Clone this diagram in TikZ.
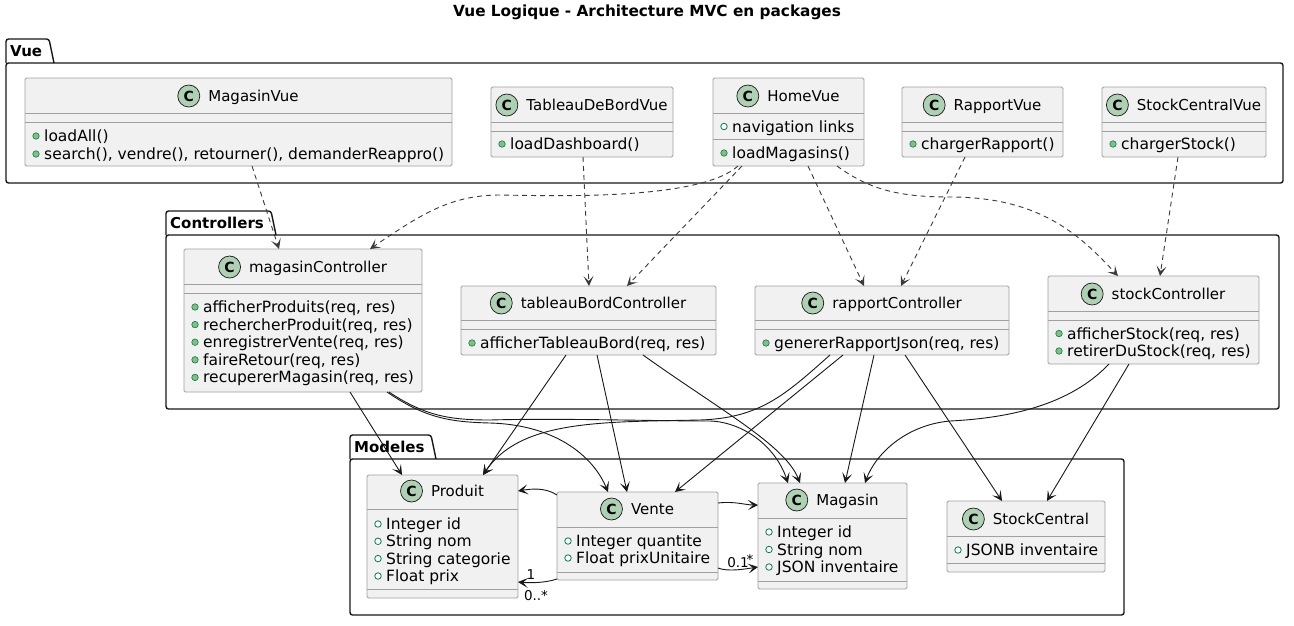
\documentclass[tikz,border=0pt]{standalone}
\usepackage{fontspec}
\setmainfont{DejaVu Sans}
\usetikzlibrary{arrows.meta,positioning}
\definecolor{clsfill}{HTML}{F1F1F1}
\definecolor{clsline}{HTML}{A0A0A0}
\definecolor{iconfill}{HTML}{ADD1B2}
\definecolor{mgreen}{HTML}{038048}
\definecolor{mfill}{HTML}{84BE84}
\definecolor{ink}{HTML}{181818}

\tikzset{
  clsbox/.style={draw=clsline, fill=clsfill, line width=0.9pt, rounded corners=1.5pt, inner sep=0pt, outer sep=0pt},
  sepline/.style={draw=clsline, line width=0.9pt},
  cname/.style={inner sep=0pt, text height=11pt, text depth=0pt, font=\fontsize{15}{18}\selectfont},
  cicon/.style={circle, draw=ink, line width=0.7pt, fill=iconfill, minimum size=22pt, inner sep=0pt, font=\bfseries\fontsize{14}{16}\selectfont},
  mtext/.style={anchor=west, inner sep=0pt, text height=11pt, text depth=0pt, font=\fontsize{15.5}{18}\selectfont},
  methdot/.style={circle, draw=mgreen, fill=mfill, line width=0.6pt, minimum size=6.5pt, inner sep=0pt},
  flddot/.style={circle, draw=mgreen, fill=white, line width=0.8pt, minimum size=6.5pt, inner sep=0pt},
  pkgbox/.style={draw=ink, line width=1.4pt, rounded corners=2.5pt, inner sep=0pt, outer sep=0pt},
  pkgtab/.style={draw=ink, line width=1.4pt, rounded corners=2.5pt},
  pkglabel/.style={anchor=west, inner sep=0pt, text height=11pt, text depth=0pt, font=\bfseries\fontsize{15}{18}\selectfont},
  dep/.style={draw=ink!85, line width=0.9pt, dash pattern=on 5pt off 4pt, -{Stealth[length=10pt,width=10pt,inset=5pt]}},
  assoc/.style={draw=ink, line width=0.9pt, -{Stealth[length=10pt,width=10pt,inset=5pt]}},
  lbl/.style={inner sep=0pt, font=\fontsize{13.5}{16}\selectfont},
}

% id, x, y, w, h
\newcommand\umlbox[5]{\node[clsbox, anchor=north west, minimum width=#4pt, minimum height=#5pt] (#1) at (#2,#3) {};}
% id, cx, y, text
\newcommand\umltitle[4]{\node[cname] (#1-n) at ({#2+15},#3) {#4};
  \node[cicon, left=8pt of #1-n] (#1-c) {C};}
% name, x1, y, text
\newcommand\umlm[4]{\node[methdot] (#1-d) at ({#2+11},#3) {};
  \node[mtext] (#1) at ({#2+19},#3) {#4};}
\newcommand\umlf[4]{\node[flddot] (#1-d) at ({#2+11},#3) {};
  \node[mtext] (#1) at ({#2+19},#3) {#4};}
% id, offset
\newcommand\umlsep[2]{\draw[sepline] ([yshift=-#2pt]#1.north west) -- ([yshift=-#2pt]#1.north east);}
% id, x, y, w, h, tabright, label
\newcommand\umlpkg[7]{\node[pkgbox, anchor=north west, minimum width=#4pt, minimum height=#5pt] (#1) at (#2,#3) {};
  \draw[pkgtab] (#2,#3) -- (#2,{#3-24}) -- ({#6-5},{#3-24}) -- (#6,#3);
  \node[pkglabel] (#1-l) at ({#2+4},{#3-12}) {#7};}

\begin{document}
\begin{tikzpicture}[x=1pt,y=-1pt]
\useasboundingbox (0,0) rectangle (1294,625);
\fill[white] (0,0) rectangle (1294,625);

\node[inner sep=0pt, font=\bfseries\fontsize{15.3}{18}\selectfont] (title) at (647,12) {Vue Logique - Architecture MVC en packages};

% packages
\umlpkg{pVue}{6}{63}{1277}{120}{54}{Vue}
\umlpkg{pCtrl}{166}{235}{1113}{174}{276}{Controllers}
\umlpkg{pMod}{350}{459}{774}{156}{436}{Modeles}

% ---- Vue classes
\umlbox{mv}{25}{78}{427}{88}
\umltitle{mv}{238.5}{96}{MagasinVue}
\umlsep{mv}{35}\umlsep{mv}{44}
\umlm{mv1}{25}{136}{loadAll()}
\umlm{mv2}{25}{154}{search(), vendre(), retourner(), demanderReappro()}

\umlbox{tv}{491}{87}{182}{70}
\umltitle{tv}{582}{105}{TableauDeBordVue}
\umlsep{tv}{35}\umlsep{tv}{44}
\umlm{tv1}{491}{144}{loadDashboard()}

\umlbox{hv}{713}{78}{151}{88}
\umltitle{hv}{788.5}{96}{HomeVue}
\umlsep{hv}{35}
\umlf{hv1}{713}{126.5}{navigation links}
\umlsep{hv}{61.5}
\umlm{hv2}{713}{153}{loadMagasins()}

\umlbox{rv}{902}{87}{161}{70}
\umltitle{rv}{982.5}{105}{RapportVue}
\umlsep{rv}{35}\umlsep{rv}{44}
\umlm{rv1}{902}{144}{chargerRapport()}

\umlbox{sv}{1102}{87}{164}{70}
\umltitle{sv}{1184}{105}{StockCentralVue}
\umlsep{sv}{35}\umlsep{sv}{44}
\umlm{sv1}{1102}{144}{chargerStock()}

% ---- Controllers
\umlbox{mc}{184}{249}{238}{143}
\umltitle{mc}{303}{267}{magasinController}
\umlsep{mc}{35}\umlsep{mc}{44}
\umlm{mc1}{184}{307}{afficherProduits(req, res)}
\umlm{mc2}{184}{324.6}{rechercherProduit(req, res)}
\umlm{mc3}{184}{342.2}{enregistrerVente(req, res)}
\umlm{mc4}{184}{359.8}{faireRetour(req, res)}
\umlm{mc5}{184}{377.4}{recupererMagasin(req, res)}

\umlbox{tc}{461}{286}{255}{69}
\umltitle{tc}{588.5}{303}{tableauBordController}
\umlsep{tc}{34}\umlsep{tc}{43}
\umlm{tc1}{461}{343}{afficherTableauBord(req, res)}

\umlbox{rc}{755}{286}{254}{69}
\umltitle{rc}{882}{303}{rapportController}
\umlsep{rc}{34}\umlsep{rc}{43}
\umlm{rc1}{755}{343}{genererRapportJson(req, res)}

\umlbox{sc}{1048}{276}{211}{88}
\umltitle{sc}{1153.5}{294}{stockController}
\umlsep{sc}{35}\umlsep{sc}{44}
\umlm{sc1}{1048}{333.5}{afficherStock(req, res)}
\umlm{sc2}{1048}{351}{retirerDuStock(req, res)}

% ---- Modeles
\umlbox{pr}{367}{475}{151}{123}
\umltitle{pr}{442.5}{491}{Produit}
\umlsep{pr}{34}
\umlf{pr1}{367}{524}{Integer id}
\umlf{pr2}{367}{541.3}{String nom}
\umlf{pr3}{367}{558.6}{String categorie}
\umlf{pr4}{367}{576}{Float prix}
\umlsep{pr}{114}

\umlbox{ve}{557}{492}{161}{88}
\umltitle{ve}{637.5}{509}{Vente}
\umlsep{ve}{35}
\umlf{ve1}{557}{541}{Integer quantite}
\umlf{ve2}{557}{558}{Float prixUnitaire}
\umlsep{ve}{80}

\umlbox{ma}{758}{483}{149}{106}
\umltitle{ma}{832.5}{500}{Magasin}
\umlsep{ma}{35}
\umlf{ma1}{758}{532}{Integer id}
\umlf{ma2}{758}{549.5}{String nom}
\umlf{ma3}{758}{567}{JSON inventaire}
\umlsep{ma}{98}

\umlbox{st}{947}{501}{158}{71}
\umltitle{st}{1026}{519}{StockCentral}
\umlsep{st}{35}
\umlf{st1}{947}{550}{JSONB inventaire}
\umlsep{st}{62}

% ---- dependencies (dashed)
\draw[dep] ([xshift=227pt]mv.south west) -- ([xshift=95pt]mc.north west);
\draw[dep] ([xshift=92pt]tv.south west) -- ([xshift=128pt]tc.north west);
\draw[dep] ([xshift=25pt]hv.south west) .. controls (700,200) and (560,196) .. (500,195)
   .. controls (450,195) and (420,215) .. ([xshift=186pt]mc.north west);
\draw[dep] ([xshift=29pt]hv.south west) -- ([xshift=166pt]tc.north west);
\draw[dep] ([xshift=95pt]hv.south west) -- ([xshift=109pt]rc.north west);
\draw[dep] ([xshift=63pt]rv.south west) -- ([xshift=146pt]rc.north west);
\draw[dep] ([xshift=124pt]hv.south west) .. controls (870,190) and (900,197) .. (950,197)
   .. controls (1040,197) and (1080,235) .. ([xshift=70pt]sc.north west);
\draw[dep] ([xshift=76pt]sv.south west) -- ([xshift=112pt]sc.north west);

% ---- associations controllers -> models
\draw[assoc] ([xshift=166pt]mc.south west) -- ([xshift=35pt]pr.north west);
\draw[assoc] ([xshift=203pt]mc.south west) .. controls (425,418) and (450,422) .. (490,423)
   .. controls (560,425) and (595,460) .. ([xshift=51pt]ve.north west);
\draw[assoc] ([xshift=205pt]mc.south west) .. controls (425,416) and (450,420) .. (490,420)
   .. controls (560,418) and (650,421) .. (710,421)
   .. controls (742,422) and (775,445) .. ([xshift=30pt]ma.north west);
\draw[assoc] ([xshift=105pt]tc.south west) -- ([xshift=116pt]pr.north west);
\draw[assoc] ([xshift=136pt]tc.south west) -- ([xshift=70pt]ve.north west);
\draw[assoc] ([xshift=182pt]tc.south west) .. controls (720,410) and (785,445) .. ([xshift=42pt]ma.north west);
\draw[assoc] ([xshift=75pt]rc.south west) .. controls (785,395) and (760,418) .. (700,420)
   .. controls (600,422) and (520,420) .. ([xshift=116pt]pr.north west);
\draw[assoc] ([xshift=88pt]rc.south west) -- ([xshift=118pt]ve.north west);
\draw[assoc] ([xshift=119pt]rc.south west) -- ([xshift=87pt]ma.north west);
\draw[assoc] ([xshift=150pt]rc.south west) -- ([xshift=55pt]st.north west);
\draw[assoc] ([xshift=61pt]sc.south west) .. controls (1070,405) and (1010,418) .. (950,421)
   .. controls (905,425) and (875,455) .. ([xshift=107pt]ma.north west);
\draw[assoc] ([xshift=81pt]sc.south west) -- ([xshift=100pt]st.north west);

% ---- associations inside Modeles
\draw[assoc] ([yshift=-3pt]ve.north west) .. controls (545,487) and (530,489) .. ([yshift=-16pt]pr.north east);
\draw[assoc] ([yshift=-11pt]ve.north east) .. controls (735,501) and (745,505) .. ([yshift=-22pt]ma.north west);
\draw[assoc] ([yshift=-76pt]ve.north east) .. controls (728,572) and (745,569) .. ([yshift=-84pt]ma.north west);
\draw[assoc] ([yshift=1pt]ve.south west) .. controls (545,583) and (530,583) .. ([yshift=16pt]pr.south east);

\node[lbl] (l1) at (531,575) {1};
\node[lbl] (l2) at (536,596) {0..*};
\node[lbl] (l3) at (738,563) {0.1};
\node[lbl] (l4) at (750,559) {*};
\end{tikzpicture}
\end{document}
